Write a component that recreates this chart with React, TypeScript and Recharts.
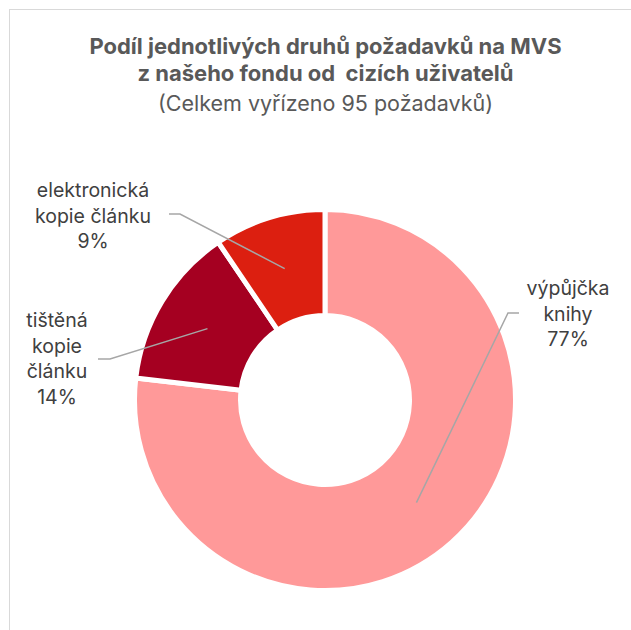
import React from 'react';
import { PieChart, Pie, Cell } from 'recharts';

const categories = ['výpůjčka\nknihy', 'tištěná\nkopie\nčlánku', 'elektronická\nkopie článku'];
const requestCounts = [73, 13, 9];
const sliceColors = ['#FF9999', '#A50021', '#DC1F10'];
const titleLines = ['Podíl jednotlivých druhů požadavků na MVS', 'z našeho fondu od  cizích uživatelů'];
const subtitle = '(Celkem vyřízeno 95 požadavků)';

// label placement relative to the pie centre
const labelLayout = [
  { elbow: [183, -87], end: [194, -87], text: [243, -105] },
  { elbow: [-215, -41], end: [-227, -41], text: [-268, -73] },
  { elbow: [-145, -186], end: [-156, -186], text: [-232, -203] },
];

const data = categories.map((name, i) => ({ name, value: requestCounts[i] }));

const FONT = 'Inter, "Noto Sans", sans-serif';
const RADIAN = Math.PI / 180;

const renderLabel = (props: any) => {
  const { cx, cy, midAngle, innerRadius, outerRadius, percent, index, name } = props;
  const r = (innerRadius + outerRadius) / 2;
  const px = cx + r * Math.cos(-midAngle * RADIAN);
  const py = cy + r * Math.sin(-midAngle * RADIAN);
  const L = labelLayout[index];
  const lines = String(name).split('\n').concat([`${Math.round(percent * 100)}%`]);
  return (
    <g>
      <polyline
        points={`${px},${py} ${cx + L.elbow[0]},${cy + L.elbow[1]} ${cx + L.end[0]},${cy + L.end[1]}`}
        fill="none"
        stroke="#A6A6A6"
        strokeWidth={1.5}
      />
      <text
        x={cx + L.text[0]}
        y={cy + L.text[1]}
        textAnchor="middle"
        fill="#404040"
        fontSize={19.5}
        fontFamily={FONT}
      >
        {lines.map((ln, i) => (
          <tspan key={i} x={cx + L.text[0]} y={cy + L.text[1] + i * 25.5}>
            {ln}
          </tspan>
        ))}
      </text>
    </g>
  );
};

export default function App() {
  return (
    <div
      style={{
        position: 'absolute',
        left: 0,
        top: 0,
        width: 631,
        height: 630,
        overflow: 'hidden',
        background: '#fff',
        fontFamily: FONT,
      }}
    >
      <div
        style={{
          position: 'absolute',
          left: 9,
          top: 9,
          width: 700,
          height: 700,
          borderLeft: '1.5px solid #D9D9D9',
          borderTop: '1.5px solid #D9D9D9',
        }}
      />
      <div
        style={{
          position: 'absolute',
          left: 0,
          width: 651,
          top: 33,
          textAlign: 'center',
          color: '#595959',
          fontSize: 22,
          lineHeight: '27px',
        }}
      >
        <div style={{ fontWeight: 700 }}>{titleLines[0]}</div>
        <div style={{ fontWeight: 700, whiteSpace: 'pre' }}>{titleLines[1]}</div>
        <div style={{ fontWeight: 400, fontSize: 21.5, marginTop: 3 }}>{subtitle}</div>
      </div>
      <div style={{ position: 'absolute', left: 0, top: 0 }}>
        <PieChart width={631} height={630} margin={{ top: 0, right: 0, bottom: 0, left: 0 }}>
          <Pie
            data={data}
            dataKey="value"
            nameKey="name"
            cx={325}
            cy={400}
            innerRadius={84.5}
            outerRadius={190.5}
            startAngle={90}
            endAngle={-270}
            stroke="#FFFFFF"
            strokeWidth={5}
            label={renderLabel}
            labelLine={false}
            isAnimationActive={false}
          >
            {data.map((d, i) => (
              <Cell key={d.name} fill={sliceColors[i]} />
            ))}
          </Pie>
        </PieChart>
      </div>
    </div>
  );
}
